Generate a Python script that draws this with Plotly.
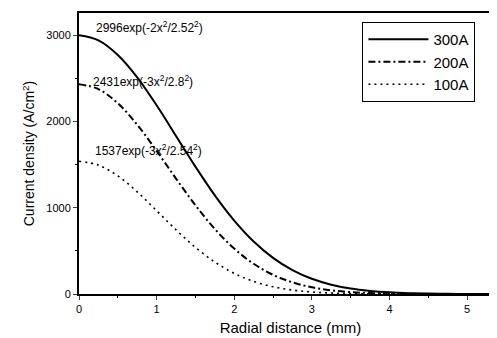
import plotly.graph_objects as go

# Radial distance (mm)
radial_mm = [0, 0.25, 0.5, 0.75, 1.0, 1.25, 1.5, 1.75, 2.0, 2.25, 2.5, 2.75, 3.0,
             3.25, 3.5, 3.75, 4.0, 4.25, 4.5, 4.75, 5.0, 5.25, 5.45]

# Current density (A/cm^2)
current_300A = [2996, 2938, 2769, 2510, 2186, 1831, 1475, 1142, 850, 608, 419, 277, 176,
                108, 63, 36, 19, 10, 5, 2, 1, 0, 0]
current_200A = [2431, 2374, 2209, 1960, 1658, 1337, 1028, 753, 526, 350, 222, 135, 78,
                43, 22, 11, 5, 2, 1, 0, 0, 0, 0]
current_100A = [1537, 1493, 1368, 1183, 965, 743, 540, 370, 239, 146, 84, 46, 23,
                11, 5, 2, 1, 0, 0, 0, 0, 0, 0]

series_names = ["300A", "200A", "100A"]
fit_labels = ["2996exp(-2x<sup>2</sup>/2.52<sup>2</sup>)",
              "2431exp(-3x<sup>2</sup>/2.8<sup>2</sup>)",
              "1537exp(-3x<sup>2</sup>/2.54<sup>2</sup>)"]
label_x = [0.19, 0.155, 0.18]
label_y = [3094, 2468, 1669]

x_ticks = [0, 1, 2, 3, 4, 5]
y_ticks = [0, 1000, 2000, 3000]

font_family = "Liberation Sans, Arial, sans-serif"

fig = go.Figure()
fig.add_trace(go.Scatter(x=radial_mm, y=current_300A, mode="lines", name=series_names[0],
                         line=dict(color="black", width=2, dash="solid", shape="spline")))
fig.add_trace(go.Scatter(x=radial_mm, y=current_200A, mode="lines", name=series_names[1],
                         line=dict(color="black", width=2, dash="7px,3px,2px,3px", shape="spline")))
fig.add_trace(go.Scatter(x=radial_mm, y=current_100A, mode="lines", name=series_names[2],
                         line=dict(color="black", width=1.6, dash="2px,4px", shape="spline")))

for txt, xx, yy in zip(fit_labels, label_x, label_y):
    fig.add_annotation(x=xx, y=yy, text=txt, showarrow=False, xanchor="left", yanchor="middle",
                       font=dict(family=font_family, size=12, color="black"))

fig.update_layout(
    width=497, height=338,
    margin=dict(l=71, r=3, t=5, b=52),
    plot_bgcolor="white", paper_bgcolor="white",
    font=dict(family=font_family, color="black"),
    showlegend=True,
    legend=dict(x=0.67, y=0.968, xanchor="left", yanchor="top",
                bordercolor="black", borderwidth=1, bgcolor="white",
                font=dict(size=15, family=font_family), itemwidth=60,
                tracegroupgap=0),
)
fig.update_xaxes(range=[0, 5.45], tickvals=x_ticks, ticks="outside", ticklen=4, tickwidth=1,
                 showline=True, linecolor="black", linewidth=2, mirror=True, showgrid=False,
                 zeroline=False, tickfont=dict(size=11),
                 minor=dict(dtick=0.5, ticks="outside", ticklen=2, tickcolor="black"),
                 title=dict(text="Radial distance (mm)", font=dict(size=15), standoff=8))
fig.update_yaxes(range=[0, 3255], tickvals=y_ticks, ticks="outside", ticklen=4, tickwidth=1,
                 showline=True, linecolor="black", linewidth=2, showgrid=False,
                 zeroline=False, tickfont=dict(size=11),
                 minor=dict(dtick=500, ticks="outside", ticklen=2, tickcolor="black"),
                 title=dict(text="Current density (A/cm<sup>2</sup>)", font=dict(size=14), standoff=8))

fig.write_html("out.html")
